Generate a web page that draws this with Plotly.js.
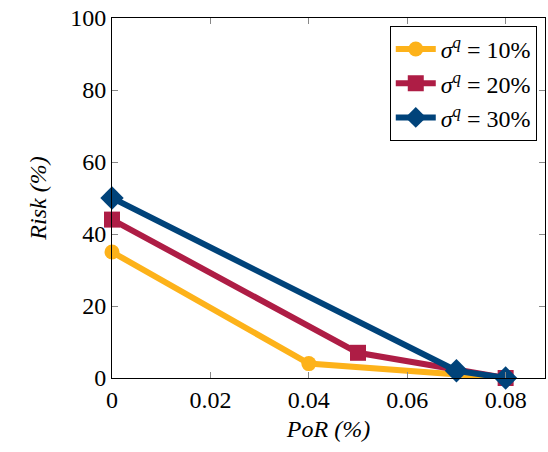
<!DOCTYPE html>
<html><head><meta charset="utf-8">
<script src="https://cdn.plot.ly/plotly-3.0.1.min.js"></script>
<style>html,body{margin:0;padding:0;background:#fff}#c{width:548px;height:452px}</style>
</head><body><div id="c"></div>
<script>
const seriesNames = ["<i>σ</i><sup><i>q</i></sup> = 10%", "<i>σ</i><sup><i>q</i></sup> = 20%", "<i>σ</i><sup><i>q</i></sup> = 30%"];
const x10 = [0, 0.04, 0.08];
const y10 = [35, 4, 0];
const x20 = [0, 0.05, 0.08];
const y20 = [44, 7, 0];
const x30 = [0, 0.07, 0.08];
const y30 = [50, 2, 0];
const xTicks = [0, 0.02, 0.04, 0.06, 0.08];
const xTickLabels = ["0", "0.02", "0.04", "0.06", "0.08"];
const yTicks = [0, 20, 40, 60, 80, 100];

const colors = ["#FDB21A", "#AE1D45", "#00437A"];
const symbols = ["circle", "square", "diamond"];
const sizes = [15, 16, 18];
const xs = [x10, x20, x30], ys = [y10, y20, y30];

const traces = xs.map((x, i) => ({
  x: x, y: ys[i], name: seriesNames[i], type: "scatter", mode: "lines+markers",
  line: {color: colors[i], width: 6},
  marker: {color: colors[i], symbol: symbols[i], size: sizes[i]},
  cliponaxis: false
}));

function fnt(s, st) { return {family: "Liberation Serif", size: s, color: "#000", style: st || "normal"}; }
const layout = {
  width: 548, height: 452,
  margin: {l: 112, r: 3, t: 18, b: 74},
  paper_bgcolor: "#fff", plot_bgcolor: "#fff",
  font: fnt(24),
  showlegend: true,
  legend: {x: 0.981, y: 0.978, xanchor: "right", yanchor: "top",
    bordercolor: "#000", borderwidth: 1, bgcolor: "#fff",
    font: fnt(24), itemwidth: 40, tracegroupgap: 0},
  xaxis: {
    range: [0, 0.088], tickvals: xTicks, ticktext: xTickLabels,
    ticks: "inside", ticklen: 6, tickcolor: "#888", tickwidth: 1,
    showline: true, linecolor: "#000", linewidth: 1, mirror: "ticks",
    showgrid: false, zeroline: true, zerolinecolor: "#888", zerolinewidth: 2,
    tickfont: fnt(24),
    title: {text: "PoR (%)", font: fnt(24, "italic"), standoff: 8}
  },
  yaxis: {
    range: [0, 100], tickvals: yTicks,
    ticks: "inside", ticklen: 6, tickcolor: "#888", tickwidth: 1,
    showline: true, linecolor: "#000", linewidth: 1, mirror: "ticks",
    showgrid: false, zeroline: false,
    tickfont: fnt(24),
    title: {text: "Risk (%)", font: fnt(24, "italic"), standoff: 16}
  }
};
Plotly.newPlot("c", traces, layout, {displayModeBar: false, staticPlot: true});
</script></body></html>
